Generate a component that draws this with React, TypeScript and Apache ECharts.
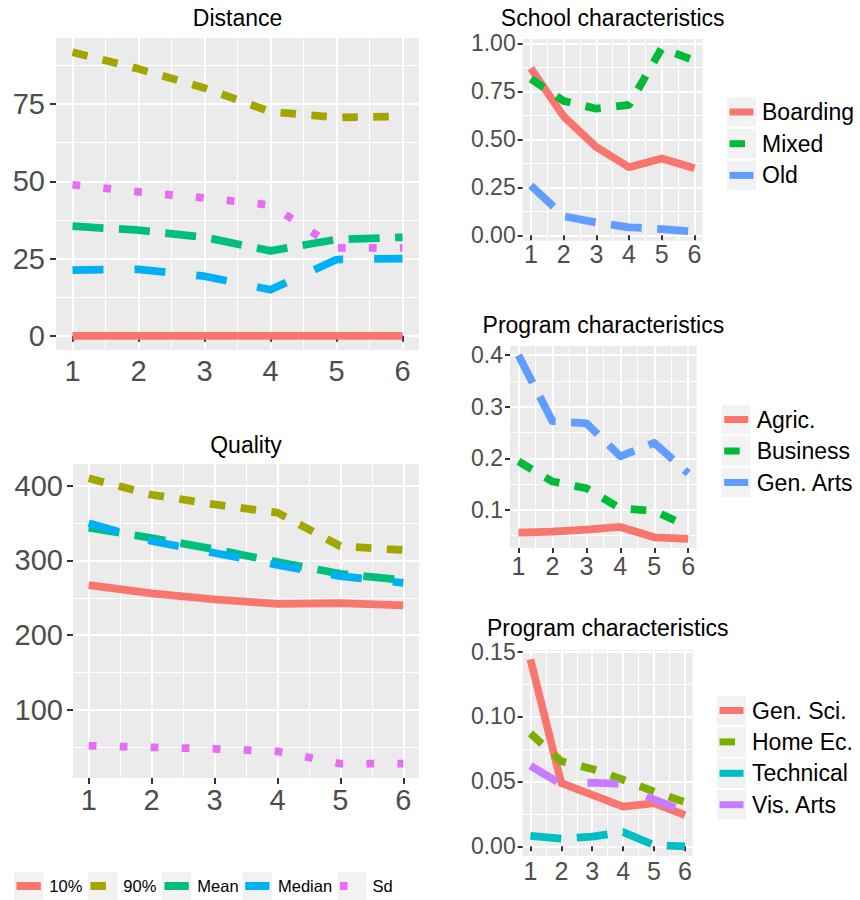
import React, { useEffect, useRef } from "react";
import * as echarts from "echarts";

// ---- data ----
const grades = [1, 2, 3, 4, 5, 6];
const gradeMinor = [1.5, 2.5, 3.5, 4.5, 5.5];

const statNames = ["10%", "90%", "Mean", "Median", "Sd"];

const distance10 = [0, 0, 0, 0, 0, 0];
const distance90 = [91.8, 86.4, 80.2, 72.5, 70.7, 71.0];
const distanceMean = [35.5, 34.2, 31.9, 27.5, 31.2, 31.9];
const distanceMedian = [21.3, 21.5, 19.3, 14.9, 24.7, 25.0];
const distanceSd = [48.9, 46.6, 44.6, 42.3, 28.5, 28.5];
const distanceTicks = [0, 25, 50, 75];
const distanceMinor = [12.5, 37.5, 62.5, 87.5];

const quality10 = [267, 256, 248, 242, 243, 240];
const quality90 = [410, 388, 375, 364, 319, 314];
const qualityMean = [344, 330, 315, 298, 282, 274];
const qualityMedian = [350, 326, 310, 294, 279, 270];
const qualitySd = [52, 50, 48, 44.5, 28, 28];
const qualityTicks = [100, 200, 300, 400];
const qualityMinor = [50, 150, 250, 350];

const schoolNames = ["Boarding", "Mixed", "Old"];
const schoolBoarding = [0.87, 0.62, 0.46, 0.355, 0.4, 0.35];
const schoolMixed = [0.815, 0.7, 0.66, 0.68, 0.975, 0.91];
const schoolOld = [0.26, 0.1, 0.067, 0.042, 0.033, 0.02];
const schoolTicks = [0, 0.25, 0.5, 0.75, 1];
const schoolMinor = [0.125, 0.375, 0.625, 0.875];

const programANames = ["Agric.", "Business", "Gen. Arts"];
const progAgric = [0.056, 0.058, 0.062, 0.067, 0.047, 0.044];
const progBusiness = [0.194, 0.155, 0.142, 0.103, 0.098, 0.068];
const progGenArts = [0.4, 0.272, 0.268, 0.204, 0.23, 0.171];
const programATicks = [0.1, 0.2, 0.3, 0.4];
const programAMinor = [0.05, 0.15, 0.25, 0.35];

const programBNames = ["Gen. Sci.", "Home Ec.", "Technical", "Vis. Arts"];
const progGenSci = [0.144, 0.0487, 0.0396, 0.0306, 0.0332, 0.0241];
const progHomeEc = [0.087, 0.0655, 0.0596, 0.0513, 0.0422, 0.034];
const progTechnical = [0.008, 0.006, 0.0075, 0.011, 0.001, 0.0];
const progVisArts = [0.062, 0.048, 0.049, 0.048, 0.036, 0.027];
const programBTicks = [0, 0.05, 0.1, 0.15];
const programBMinor = [0.025, 0.075, 0.125];

// ---- styles ----
const FONT = '"Liberation Sans", Arial, Helvetica, sans-serif';
const hue5 = ["#F8766D", "#A3A500", "#00BF7D", "#00B0F6", "#E76BF3"];
const hue3 = ["#F8766D", "#00BA38", "#619CFF"];
const hue4 = ["#F8766D", "#7CAE00", "#00BFC4", "#C77CFF"];
const LW = 7.75;
// solid, "22", "42", "44", "13" in line-width units
const linetypes: (number[] | null)[] = [null, [2, 2], [4, 2], [4, 4], [1, 3]].map((d) =>
  d ? d.map((v) => v * LW) : null
);

type Line = { name: string; values: number[]; color: string; dash: number[] | null };

const makeLines = (names: string[], values: number[][], colors: string[]): Line[] =>
  names.map((name, i) => ({ name, values: values[i], color: colors[i], dash: linetypes[i] }));

type Panel = {
  title: string;
  titleTop: number;
  grid: { left: number; top: number; width: number; height: number };
  lines: Line[];
  yTicks: number[];
  yMinor: number[];
  digits: number;
  yFont: number;
  xFont: number;
  yMargin: number;
  xMargin: number;
  tickLen: number;
  legend?: { keyX: number; firstY: number; step: number };
};

const panels: Panel[] = [
  {
    title: "Distance",
    titleTop: 6,
    grid: { left: 56, top: 38, width: 363, height: 312 },
    lines: makeLines(statNames, [distance10, distance90, distanceMean, distanceMedian, distanceSd], hue5),
    yTicks: distanceTicks,
    yMinor: distanceMinor,
    digits: 0,
    yFont: 29,
    xFont: 29,
    yMargin: 11,
    xMargin: 6,
    tickLen: 6,
  },
  {
    title: "Quality",
    titleTop: 433,
    grid: { left: 73, top: 464, width: 346, height: 314 },
    lines: makeLines(statNames, [quality10, quality90, qualityMean, qualityMedian, qualitySd], hue5),
    yTicks: qualityTicks,
    yMinor: qualityMinor,
    digits: 0,
    yFont: 29,
    xFont: 29,
    yMargin: 10,
    xMargin: 7,
    tickLen: 6,
  },
  {
    title: "School characteristics",
    titleTop: 6,
    grid: { left: 522.7, top: 39, width: 180, height: 201.7 },
    lines: makeLines(schoolNames, [schoolBoarding, schoolMixed, schoolOld], hue3),
    yTicks: schoolTicks,
    yMinor: schoolMinor,
    digits: 2,
    yFont: 23,
    xFont: 25,
    yMargin: 7,
    xMargin: 1,
    tickLen: 5,
    legend: { keyX: 727, firstY: 112, step: 31.7 },
  },
  {
    title: "Program characteristics",
    titleTop: 313,
    grid: { left: 510, top: 346, width: 186.7, height: 202 },
    lines: makeLines(programANames, [progAgric, progBusiness, progGenArts], hue3),
    yTicks: programATicks,
    yMinor: programAMinor,
    digits: 1,
    yFont: 23,
    xFont: 25,
    yMargin: 7,
    xMargin: 5,
    tickLen: 5,
    legend: { keyX: 721.7, firstY: 419.5, step: 31.5 },
  },
  {
    title: "Program characteristics",
    titleTop: 616.5,
    grid: { left: 522.7, top: 650, width: 170, height: 205.7 },
    lines: makeLines(programBNames, [progGenSci, progHomeEc, progTechnical, progVisArts], hue4),
    yTicks: programBTicks,
    yMinor: programBMinor,
    digits: 2,
    yFont: 23,
    xFont: 25,
    yMargin: 7,
    xMargin: 3,
    tickLen: 5,
    legend: { keyX: 717, firstY: 710.5, step: 31.4 },
  },
];

// shared legend for Distance and Quality, along the bottom
const bottomLegend = { keyXs: [14, 88, 162, 242.7, 337.3], centerY: 886, fontSize: 16.5 };

function expanded(values: number[][]): [number, number] {
  const all = values.flat();
  const lo = Math.min(...all);
  const hi = Math.max(...all);
  const pad = (hi - lo) * 0.05;
  return [lo - pad, hi + pad];
}

function legendKey(x: number, cy: number, w: number, h: number, line: Line, lineWidth: number, label: string, fontSize: number) {
  return [
    { type: "rect", silent: true, shape: { x, y: cy - h / 2, width: w, height: h }, style: { fill: "#F2F2F2" } },
    {
      type: "line",
      silent: true,
      shape: { x1: x + 2.5, y1: cy, x2: x + w - 2.5, y2: cy },
      style: { stroke: line.color, lineWidth, lineDash: line.dash || undefined, lineCap: "butt" },
    },
    {
      type: "text",
      silent: true,
      x: x + w + 6,
      y: cy,
      style: { text: label, fill: "#000000", font: `${fontSize}px ${FONT}`, verticalAlign: "middle", align: "left" },
    },
  ];
}

function buildOption() {
  const grids: any[] = [];
  const xAxes: any[] = [];
  const yAxes: any[] = [];
  const series: any[] = [];
  const titles: any[] = [];
  const graphics: any[] = [];

  panels.forEach((p, gi) => {
    grids.push({
      ...p.grid,
      show: true,
      backgroundColor: "#EBEBEB",
      borderWidth: 0,
      containLabel: false,
      outerBoundsMode: "none",
    });

    const [ymin, ymax] = expanded(p.lines.map((l) => l.values));
    const xIdx = xAxes.length;
    const yIdx = yAxes.length;

    const majorCommon = (font: number, margin: number, ticks: number[], fmt: (v: number) => string) => ({
      gridIndex: gi,
      type: "value",
      axisLine: { show: false },
      axisTick: { show: true, length: p.tickLen, lineStyle: { color: "#333333", width: 2 }, customValues: ticks },
      axisLabel: {
        show: true,
        customValues: ticks,
        color: "#4D4D4D",
        fontSize: font,
        fontFamily: FONT,
        margin,
        formatter: fmt,
      },
      splitLine: { show: true, lineStyle: { color: "#FFFFFF", width: 2 } },
      minorTick: { show: false },
      minorSplitLine: { show: false },
    });
    const minorCommon = (ticks: number[]) => ({
      gridIndex: gi,
      type: "value",
      axisLine: { show: false },
      axisTick: { show: false, customValues: ticks },
      axisLabel: { show: false, customValues: ticks },
      splitLine: { show: true, lineStyle: { color: "#FFFFFF", width: 1 } },
    });

    xAxes.push({ ...majorCommon(p.xFont, p.xMargin, grades, (v) => String(v)), position: "bottom", min: 0.75, max: 6.25 });
    xAxes.push({ ...minorCommon(gradeMinor), position: "bottom", min: 0.75, max: 6.25 });
    yAxes.push({
      ...majorCommon(p.yFont, p.yMargin, p.yTicks, (v) => v.toFixed(p.digits)),
      position: "left",
      min: ymin,
      max: ymax,
    });
    yAxes.push({ ...minorCommon(p.yMinor), position: "left", min: ymin, max: ymax });

    p.lines.forEach((l) => {
      series.push({
        type: "line",
        name: l.name,
        xAxisIndex: xIdx,
        yAxisIndex: yIdx,
        data: grades.map((g, k) => [g, l.values[k]]),
        showSymbol: false,
        symbol: "none",
        silent: true,
        clip: true,
        emphasis: { disabled: true },
        lineStyle: {
          color: l.color,
          width: LW,
          type: l.dash || "solid",
          cap: "butt",
          join: "round",
        },
      });
    });

    titles.push({
      text: p.title,
      left: p.grid.left + p.grid.width / 2,
      top: p.titleTop,
      textAlign: "center",
      padding: 0,
      textStyle: { fontSize: 23, lineHeight: 23, fontWeight: "normal", color: "#000000", fontFamily: FONT },
    });

    if (p.legend) {
      const lg = p.legend;
      p.lines.forEach((l, k) => {
        graphics.push(...legendKey(lg.keyX, lg.firstY + k * lg.step, 29, 29.5, l, 7, l.name, 23));
      });
    }
  });

  panels[0].lines.forEach((l, k) => {
    graphics.push(...legendKey(bottomLegend.keyXs[k], bottomLegend.centerY, 29.3, 28, l, 8, l.name, bottomLegend.fontSize));
  });

  return {
    animation: false,
    backgroundColor: "#FFFFFF",
    title: titles,
    grid: grids,
    xAxis: xAxes,
    yAxis: yAxes,
    series,
    graphic: graphics,
  };
}

export default function App() {
  const ref = useRef<HTMLDivElement>(null);
  useEffect(() => {
    if (!ref.current) return;
    const chart = echarts.init(ref.current, null, { renderer: "svg" });
    chart.setOption(buildOption() as any);
    return () => chart.dispose();
  }, []);
  return <div ref={ref} style={{ position: "absolute", left: 0, top: 0, width: 860, height: 900 }} />;
}
